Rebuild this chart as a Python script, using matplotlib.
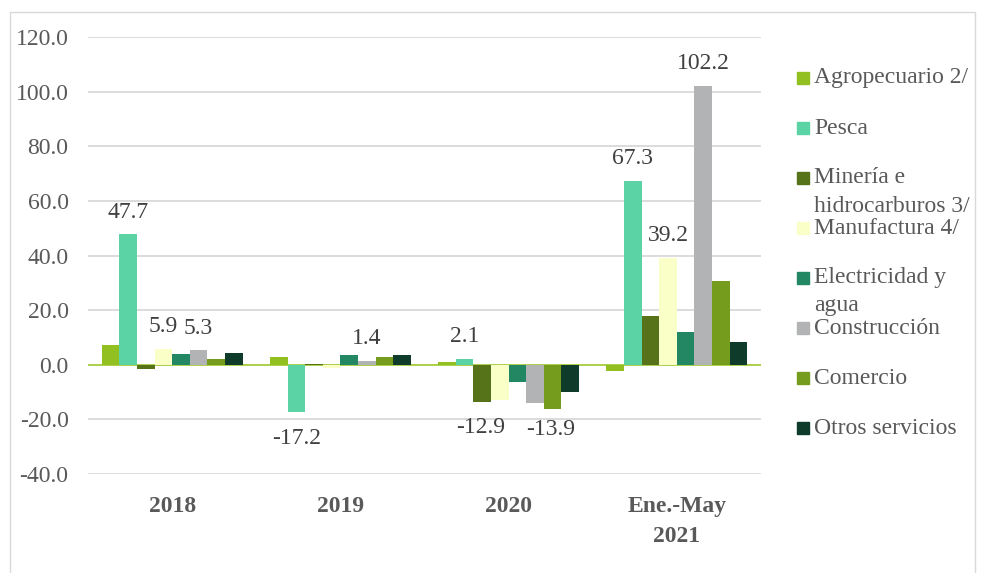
import matplotlib.pyplot as plt
import numpy as np
from matplotlib.patches import Rectangle

plt.rcParams['font.family'] = ['Liberation Serif', 'DejaVu Serif']

# growth rates by sector (%)
periods = ['2018', '2019', '2020', 'Ene.-May\n2021']
sectors = ['Agropecuario 2/', 'Pesca', 'Minería e\nhidrocarburos 3/', 'Manufactura 4/',
           'Electricidad y\nagua', 'Construcción', 'Comercio', 'Otros servicios']
agro = [7.3, 3.0, 0.9, -2.4]
pesca = [47.7, -17.2, 2.1, 67.3]
mineria = [-1.5, 0.1, -13.6, 18.0]
manufactura = [5.9, -1.2, -12.9, 39.2]
electricidad = [4.0, 3.7, -6.3, 12.1]
construccion = [5.3, 1.4, -13.9, 102.2]
comercio = [2.2, 2.7, -16.2, 30.7]
otros = [4.2, 3.7, -9.8, 8.5]

series = [agro, pesca, mineria, manufactura, electricidad, construccion, comercio, otros]
colors = ['#92C020', '#5BD3A4', '#56731A', '#FAFFC8', '#238764', '#B2B3B5', '#769C1E', '#0E3B2A']
labelled = [1, 3, 5]  # series that carry value labels
skip = {(3, 1)}       # labels left off
dx_fix = {(3, 2): -14, (5, 2): 11.5}  # nudge colliding labels (points)

fig = plt.figure(figsize=(9.81, 5.73), dpi=100)
ax = fig.add_axes([88 / 981, 1 - 474 / 573, (761 - 88) / 981, (474 - 37) / 573])

x = np.arange(len(periods))
w = 0.1047
for i, (vals, c) in enumerate(zip(series, colors)):
    pos = x + (i - 3.5) * w
    ax.bar(pos, vals, width=w, color=c, zorder=3)
    if i in labelled:
        for j, v in enumerate(vals):
            if (i, j) in skip:
                continue
            dy = 16 if v >= 0 else -19.5
            ax.annotate(f'{v:.1f}', (pos[j], v), xytext=(dx_fix.get((i, j), 0), dy),
                        textcoords='offset points', ha='center', va='center',
                        fontsize=17, color='#404040')

ax.set_xlim(-0.5, 3.5)
ax.set_ylim(-40, 120)
ax.set_yticks(np.arange(-40, 121, 20))
ax.set_yticklabels([f'{t:.1f}' for t in np.arange(-40, 121, 20)])
ax.set_xticks(x)
ax.set_xticklabels(periods, fontweight='bold', linespacing=1.55)
ax.tick_params(axis='y', length=0, pad=14, labelsize=17, labelcolor='#595959')
ax.tick_params(axis='x', length=0, pad=16, labelsize=17, labelcolor='#595959')
ax.grid(axis='y', color='#D9D9D9', linewidth=1.3, zorder=0)
ax.axhline(0, color='#A8D040', linewidth=1.3, zorder=2)
for s in ax.spines.values():
    s.set_visible(False)

# legend
for k, (name, c) in enumerate(zip(sectors, colors)):
    yc = 78 + 50 * k
    fig.patches.append(Rectangle((797 / 981, 1 - (yc + 6) / 573), 12 / 981, 12 / 573,
                                 transform=fig.transFigure, color=c))
    for n, line in enumerate(name.split('\n')):
        fig.text(814 / 981, 1 - (yc + 28 * n) / 573, line, ha='left', va='center',
                 fontsize=17, color='#595959')

# chart border
fig.patches.append(Rectangle((10 / 981, -0.01), 965 / 981, 1.01 - 12 / 573,
                             transform=fig.transFigure, fill=False,
                             edgecolor='#D9D9D9', linewidth=1))

fig.savefig('out.png', dpi=100)
